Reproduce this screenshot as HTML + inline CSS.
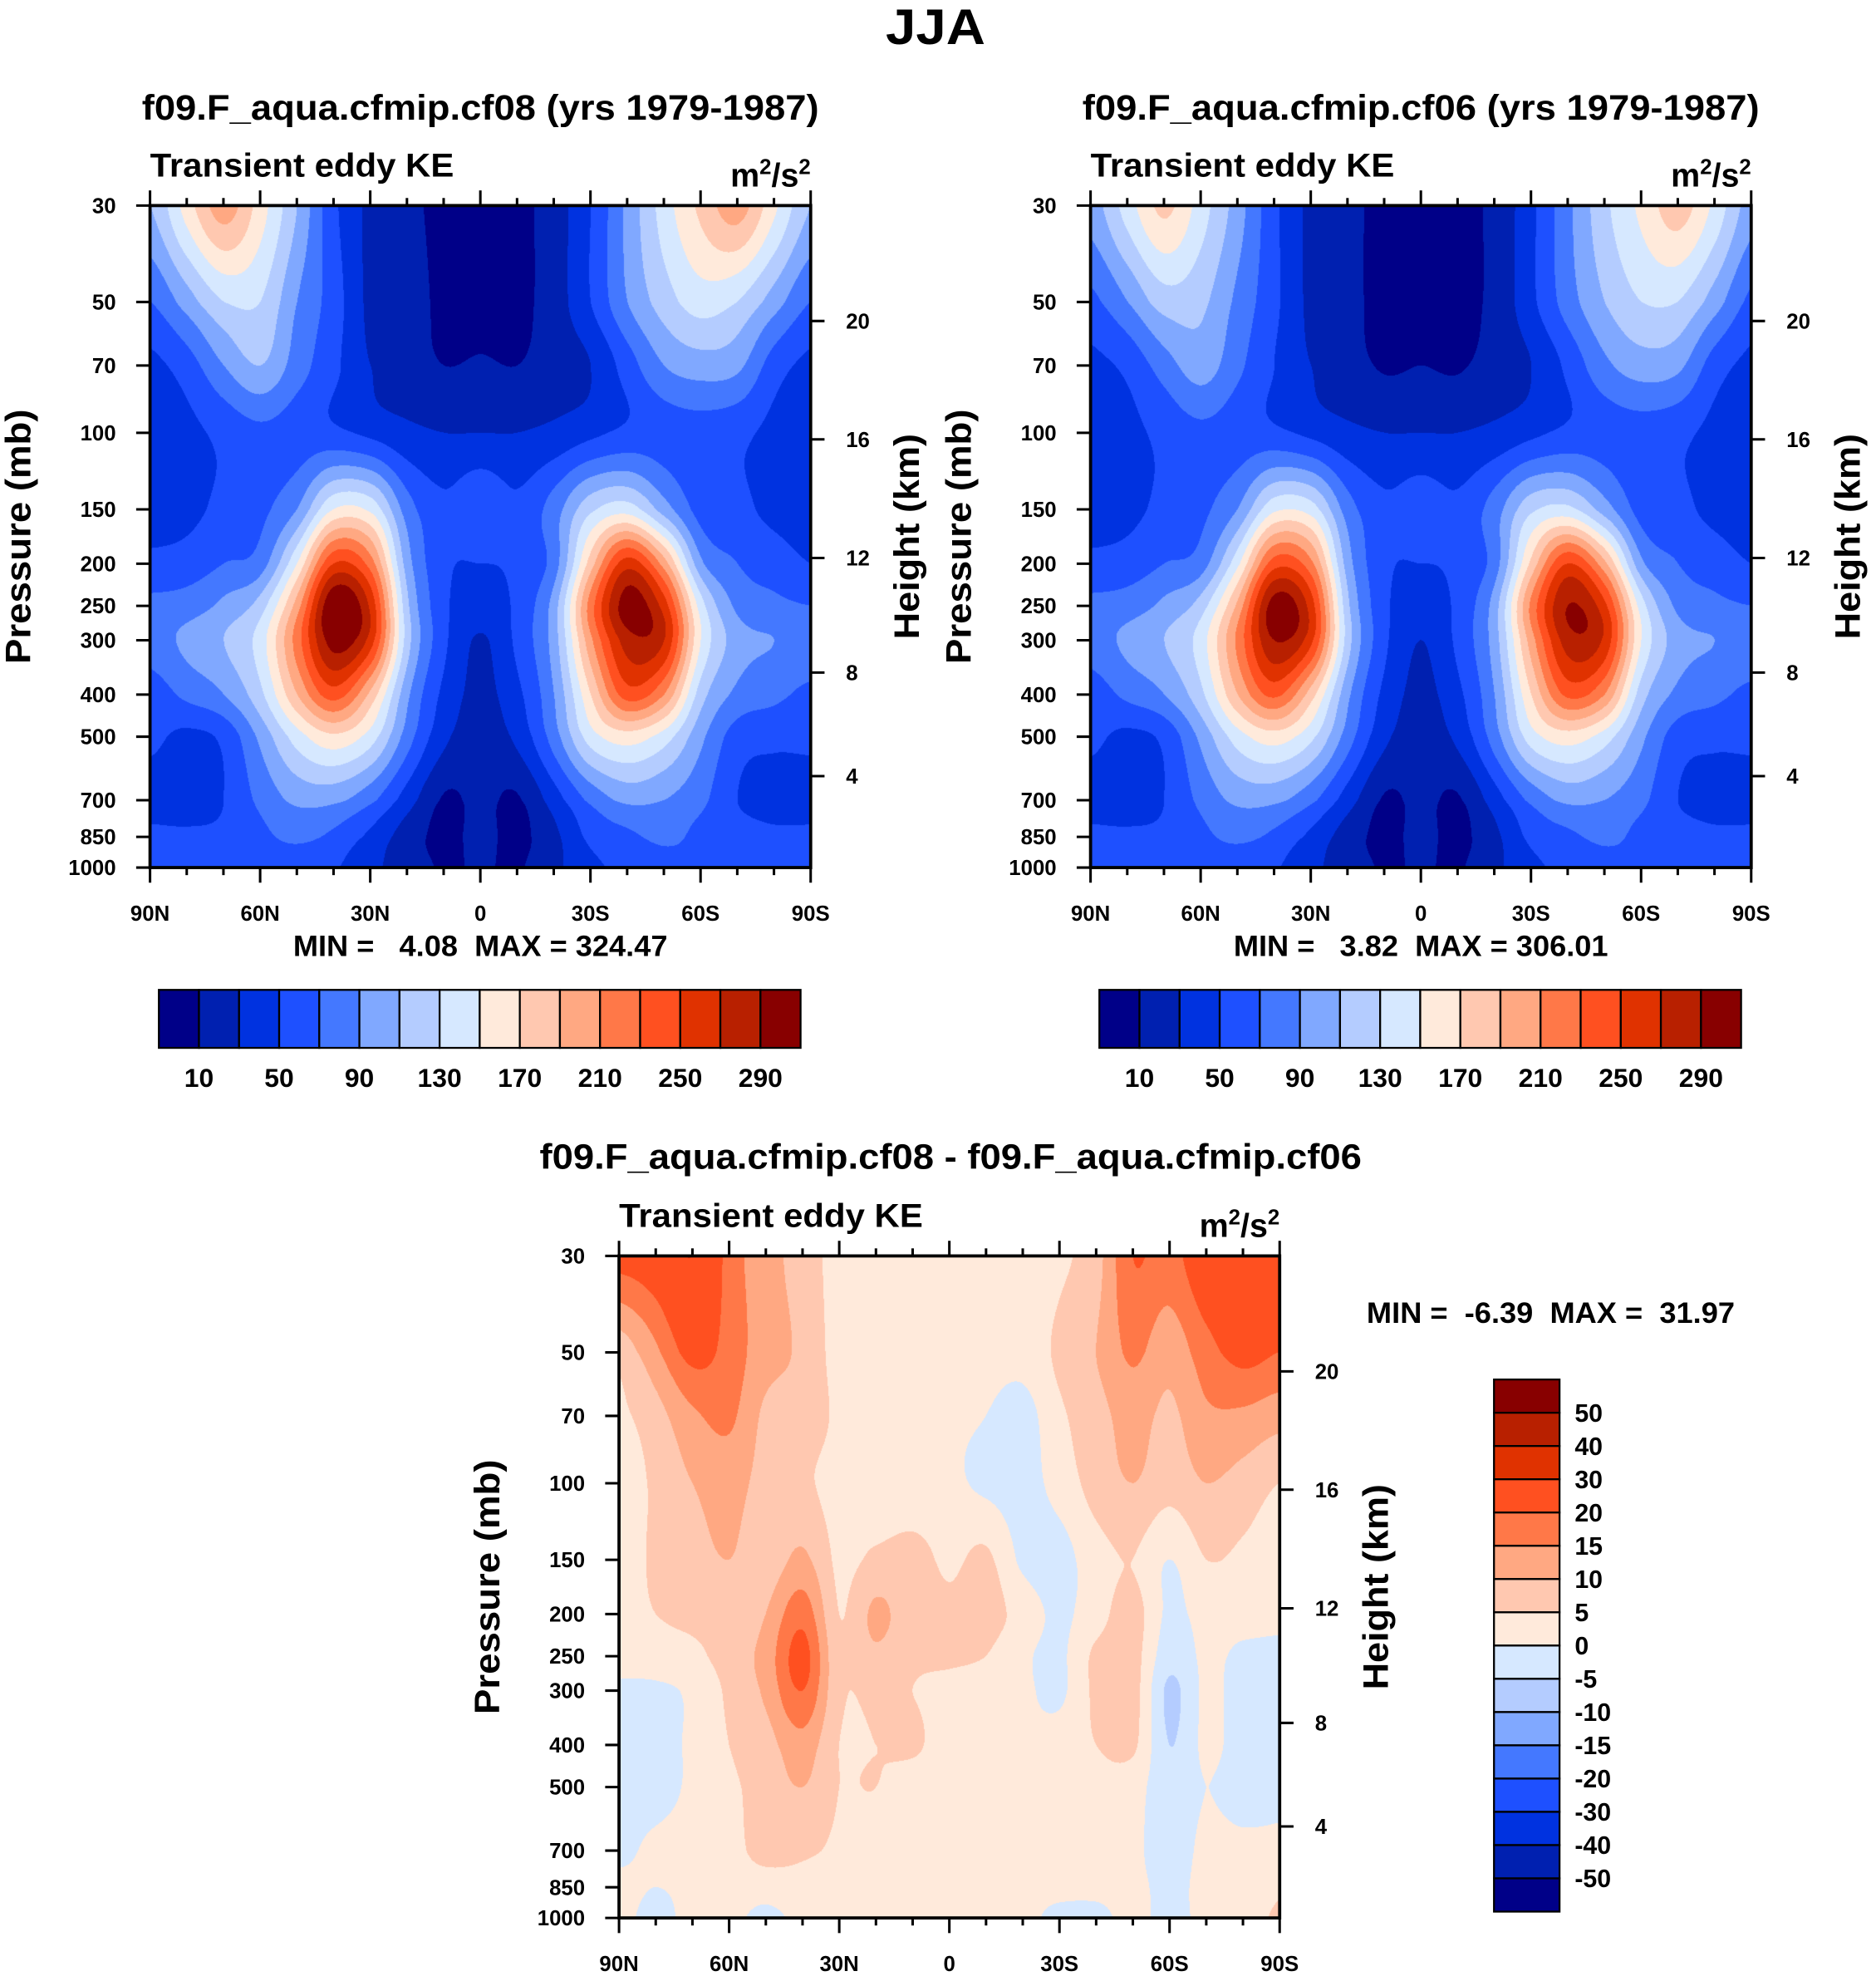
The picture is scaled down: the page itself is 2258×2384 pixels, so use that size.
<!DOCTYPE html>
<html><head><meta charset="utf-8">
<style>
html,body{margin:0;padding:0;background:#fff;}
#wrap{position:relative;width:2258px;height:2384px;overflow:hidden;background:#fff;}
canvas{position:absolute;}
svg{position:absolute;left:0;top:0;}
text{font-family:"Liberation Sans",Arial,sans-serif;font-weight:bold;fill:#000;}
</style></head>
<body>
<div id="wrap">
<canvas id="c1"></canvas>
<canvas id="c2"></canvas>
<canvas id="c3"></canvas>
<svg id="svg" width="2258" height="2384" viewBox="0 0 1488 1571" xmlns="http://www.w3.org/2000/svg">
<text x="742" y="35" text-anchor="middle" font-size="40" textLength="79" lengthAdjust="spacingAndGlyphs">JJA</text>
</svg>
</div>
<script>
// ---- data ----
const lats = [90,80,70,60,50,40,30,20,10,0,-10,-20,-30,-40,-50,-60,-70,-80,-90];
const pressures = [30,50,70,100,150,200,250,300,400,500,700,850,1000];
const pressureTicks = [30,50,70,100,150,200,250,300,400,500,700,850,1000];
const heightTicksKm = [20,16,12,8,4];
const heightTickPressure = [55.3,103.5,194,356,616];
const latTickLabels = ["90N","60N","30N","0","30S","60S","90S"];
const levelsAbs = [10,30,50,70,90,110,130,150,170,190,210,230,250,270,290];
const levelsDiff = [-50,-40,-30,-20,-15,-10,-5,0,5,10,15,20,30,40,50];
const absBarLabels = ["10","50","90","130","170","210","250","290"];
const diffBarLabels = ["50","40","30","20","15","10","5","0","-5","-10","-15","-20","-30","-40","-50"];
const cmap = ['#000088','#0020b0','#0032e0','#1e50ff','#4478ff','#80a8ff','#b4ccff','#d6e8ff','#ffeadb','#ffc8b0','#ffa882','#ff7848','#ff5020','#e03200','#b82000','#880000'];

const cf08Values = [
[110,160,200,160,110,55,25,15,5,5,5,20,50,95,140,175,200,155,110],
[70,100,130,130,90,60,25,20,5,5,5,20,50,90,120,140,130,100,70],
[45,60,90,110,80,55,30,20,10,12,10,20,30,60,90,100,95,60,45],
[40,45,55,65,60,55,45,35,30,30,30,35,45,55,60,60,55,45,40],
[40,45,55,65,90,150,145,80,55,68,55,80,125,140,100,62,55,45,40],
[55,58,70,80,150,250,220,100,55,50,55,80,180,260,200,95,70,60,50],
[75,80,95,120,200,310,265,115,55,40,55,100,220,300,260,140,85,75,70],
[80,95,110,140,220,300,260,120,55,28,55,100,205,280,270,150,100,90,85],
[60,75,90,125,190,240,185,95,45,25,45,90,170,240,210,120,85,75,65],
[55,45,55,95,140,165,140,80,35,20,35,80,140,160,140,95,60,55,55],
[40,35,50,75,95,95,75,40,8,15,8,40,75,95,90,75,50,40,40],
[55,55,55,65,75,65,45,20,5,15,5,25,55,65,75,65,60,55,55],
[50,55,60,60,55,52,35,20,8,12,8,25,45,55,60,70,60,55,55]];

const cf06Values = [
[100,140,175,140,100,55,25,15,5,5,5,15,45,85,125,155,180,145,100],
[65,90,120,115,85,55,25,15,5,5,5,15,45,80,110,130,130,100,65],
[45,55,80,100,75,50,30,18,8,10,8,18,30,55,85,100,95,60,45],
[40,45,55,65,60,55,45,35,30,30,30,35,45,55,60,60,55,45,40],
[40,45,55,65,90,145,140,80,55,62,55,80,125,135,100,62,55,45,40],
[55,58,70,80,145,240,215,100,55,50,55,80,175,250,195,95,70,60,50],
[75,80,95,120,195,300,260,115,55,40,55,100,215,290,255,140,85,75,70],
[80,95,110,140,215,290,255,120,55,30,55,100,200,280,265,150,100,90,85],
[60,75,90,125,190,235,180,95,45,25,45,90,170,235,210,120,85,75,65],
[55,45,55,95,140,160,135,80,35,20,35,80,140,160,140,95,60,55,55],
[40,35,50,75,95,95,75,40,8,15,8,40,75,95,90,75,50,40,40],
[55,55,55,65,75,65,45,20,5,15,5,25,55,65,75,65,60,55,55],
[50,55,60,60,55,52,35,20,8,12,8,25,45,55,60,70,60,55,55]];

const diffValues = [
[22,24,30,18,12,8,3,3,2,2,2,2,4,8,20,18,25,28,25],
[7,14,22,18,12,9,3,2,2,2,2,2,6,10,16,12,18,22,20],
[4,8,14,16,9,8,4,2,1,1,0,-2,4,8,12,9,14,14,12],
[2,6,10,12,8,6,3,1,1,1,-1,-2,2,7,10,7,10,8,5],
[2,6,8,10,7,11,4,6,7,4,6,-1,-2,3,5,0,5,4,2],
[3,5,6,6,10,18,5,11,7,6,7,3,-1,3,7,-1,2,2,1],
[2,3,4,7,12,22,6,9,6,6,5,1,-1,6,7,-3,1,-1,-1],
[-1,-1,1,6,11,20,6,6,5,3,2,1,-1,6,7,-6,1,-2,-2],
[-2,-2,1,5,8,13,5,5,6,2,2,1,2,5,6,-5,1,-2,-2],
[-2,-2,1,4,7,10,5,5,2,2,1,1,1,3,2,-3,0,-2,-1],
[-1,1,2,3,7,6,4,2,1,1,1,1,1,2,1,-2,1,1,1],
[1,0,1,2,2,3,2,1,1,1,1,1,1,1,1,-1,1,1,4],
[1,-1,1,1,-1,1,1,1,1,1,1,1,-1,-1,1,-1,1,2,6]];

// ---- geometry (viewBox units) ----
const S = 2258/1488;
const PW = 524, PH = 525;
const LNR = Math.log(1000/30);
function xLat(lat, x0){ return x0 + (90-lat)/180*PW; }
function yP(p, y0){ return y0 + PH*Math.log(p/30)/LNR; }

const svg = document.getElementById('svg');
const NS = 'http://www.w3.org/2000/svg';
function mk(tag, attrs, parent){
  const e = document.createElementNS(NS, tag);
  for (const k in attrs) e.setAttribute(k, attrs[k]);
  (parent||svg).appendChild(e);
  return e;
}
function txt(x,y,s,size,anchor,parent,len){
  const a = {x:x,y:y,'font-size':size,'text-anchor':anchor||'start'};
  if (len){ a.textLength = len; a.lengthAdjust = 'spacingAndGlyphs'; }
  const t = mk('text',a,parent);
  t.textContent = s;
  return t;
}

function levelIndex(v, levels){
  let i=0; while(i<levels.length && v>=levels[i]) i++; return i;
}
function cr(p0,p1,p2,p3,t){
  return 0.5*((2*p1)+(-p0+p2)*t+(2*p0-5*p1+4*p2-p3)*t*t+(-p0+3*p1-3*p2+p3)*t*t*t);
}
function drawField(id, x0, y0, vals, levels){
  const c = document.getElementById(id);
  const L = x0*S, T = y0*S, W = Math.round(PW*S), H = Math.round(PH*S);
  c.style.left = L+'px'; c.style.top = T+'px';
  c.width = W; c.height = H;
  c.style.width = W+'px'; c.style.height = H+'px';
  const ctx = c.getContext('2d');
  const img = ctx.createImageData(W,H);
  const nr = pressures.length, nc = lats.length;
  const lnP = pressures.map(p=>Math.log(p));
  const rowF = new Float64Array(H);
  for (let y=0;y<H;y++){
    const lp = Math.log(30) + (y+0.5)/H*LNR;
    let k=0; while(k<nr-2 && lp>lnP[k+1]) k++;
    rowF[y] = k + Math.min(1,Math.max(0,(lp-lnP[k])/(lnP[k+1]-lnP[k])));
  }
  const rgb = cmap.map(h=>[parseInt(h.substr(1,2),16),parseInt(h.substr(3,2),16),parseInt(h.substr(5,2),16)]);
  const g = (r,cc)=>vals[Math.max(0,Math.min(nr-1,r))][Math.max(0,Math.min(nc-1,cc))];
  for (let y=0;y<H;y++){
    const rf = rowF[y]; const r = Math.min(nr-2,Math.floor(rf)); const tr = rf-r;
    for (let x=0;x<W;x++){
      const cf = (x+0.5)/W*(nc-1); const cc = Math.min(nc-2,Math.floor(cf)); const tc = cf-cc;
      const cols=[];
      for (let j=-1;j<=2;j++){
        cols.push(cr(g(r+j,cc-1),g(r+j,cc),g(r+j,cc+1),g(r+j,cc+2),tc));
      }
      const v = cr(cols[0],cols[1],cols[2],cols[3],tr);
      const col = rgb[levelIndex(v, levels)];
      const o = (y*W+x)*4;
      img.data[o]=col[0]; img.data[o+1]=col[1]; img.data[o+2]=col[2]; img.data[o+3]=255;
    }
  }
  ctx.putImageData(img,0,0);
}

function drawAxes(x0, y0, name){
  const g = mk('g',{});
  
  
  const fr = mk('rect',{x:x0,y:y0,width:PW,height:PH,fill:'none',stroke:'#000','stroke-width':2.5},g);
  
  
  for (let lat=90; lat>=-90; lat-=10){
    const x = xLat(lat,x0); const major = (lat%30===0);
    const len = major?12:6;
    mk('line',{x1:x,y1:y0,x2:x,y2:y0-len,stroke:'#000','stroke-width':2},g);
    mk('line',{x1:x,y1:y0+PH,x2:x,y2:y0+PH+len,stroke:'#000','stroke-width':2},g);
  }
  latTickLabels.forEach((s,i)=>{
    const t = txt(xLat(90-30*i,x0), y0+PH+42, s, 17, 'middle', g);
    
    
  });
  pressureTicks.forEach(p=>{
    const y = yP(p,y0);
    mk('line',{x1:x0,y1:y,x2:x0-11,y2:y,stroke:'#000','stroke-width':2},g);
    const t = txt(x0-27, y+6, String(p), 17, 'end', g);
    
    
  });
  heightTicksKm.forEach((km,i)=>{
    const y = yP(heightTickPressure[i],y0);
    mk('line',{x1:x0+PW,y1:y,x2:x0+PW+11,y2:y,stroke:'#000','stroke-width':2},g);
    const t = txt(x0+PW+28, y+6, String(km), 17, 'start', g);
    
    
  });
  const yl = txt(0,0,'Pressure (mb)',28,'middle',g,202);
  yl.setAttribute('transform','translate('+(x0-95)+','+(y0+PH/2)+') rotate(-90)');
  
  
  const hl = txt(0,0,'Height (km)',28,'middle',g,163);
  hl.setAttribute('transform','translate('+(x0+PW+86)+','+(y0+PH/2)+') rotate(-90)');
  
  
  const sub = txt(x0, y0-23, 'Transient eddy KE', 26, 'start', g, 241);
  
  
  const u = mk('text',{x:x0+PW,y:y0-15,'font-size':26,'text-anchor':'end'},g);
  
  
  u.innerHTML = 'm<tspan dy="-10" font-size="17">2</tspan><tspan dy="10">/s</tspan><tspan dy="-10" font-size="17">2</tspan>';
}

function hColorbar(x0, y0, name){
  const g = mk('g',{});
  
  
  const bw = 509/16;
  cmap.forEach((c,i)=>{
    const r = mk('rect',{x:x0+i*bw,y:y0,width:bw,height:46,fill:c,stroke:'#000','stroke-width':1.5},g);
    
    
  });
  absBarLabels.forEach((s,i)=>{
    const t = txt(x0+(2*i+1)*bw, y0+77, s, 21, 'middle', g);
    
    
  });
}

// panel 1
drawField('c1', 119, 163, cf08Values, levelsAbs);
drawAxes(119, 163, 'cf08');
let t;
t = txt(381, 95, 'f09.F_aqua.cfmip.cf08 (yrs 1979-1987)', 28, 'middle', null, 537);
 
t = txt(381, 758, 'MIN =   4.08  MAX = 324.47', 23, 'middle', null, 297);
 
t.style.whiteSpace='pre';
hColorbar(126, 785, 'cf08-colorbar');

// panel 2
drawField('c2', 865, 163, cf06Values, levelsAbs);
drawAxes(865, 163, 'cf06');
t = txt(1127, 95, 'f09.F_aqua.cfmip.cf06 (yrs 1979-1987)', 28, 'middle', null, 537);
 
t = txt(1127, 758, 'MIN =   3.82  MAX = 306.01', 23, 'middle', null, 297);
 
t.style.whiteSpace='pre';
hColorbar(872, 785, 'cf06-colorbar');

// diff panel
drawField('c3', 491, 996, diffValues, levelsDiff);
drawAxes(491, 996, 'diff');
t = txt(754, 927, 'f09.F_aqua.cfmip.cf08 - f09.F_aqua.cfmip.cf06', 28, 'middle', null, 652);
 
t = txt(1084, 1049, 'MIN =  -6.39  MAX =  31.97', 23, 'start', null, 292);
 
t.style.whiteSpace='pre';
(function(){
  const g = mk('g',{});
  
  
  const x0=1185, y0=1094, bh=422/16;
  for (let i=0;i<16;i++){
    const r = mk('rect',{x:x0,y:y0+i*bh,width:52,height:bh,fill:cmap[15-i],stroke:'#000','stroke-width':1.5},g);
    
    
  }
  diffBarLabels.forEach((s,i)=>{
    const tt = txt(x0+64, y0+(i+1)*bh+7, s, 20, 'start', g);
    
    
  });
})();
</script>
</body></html>
